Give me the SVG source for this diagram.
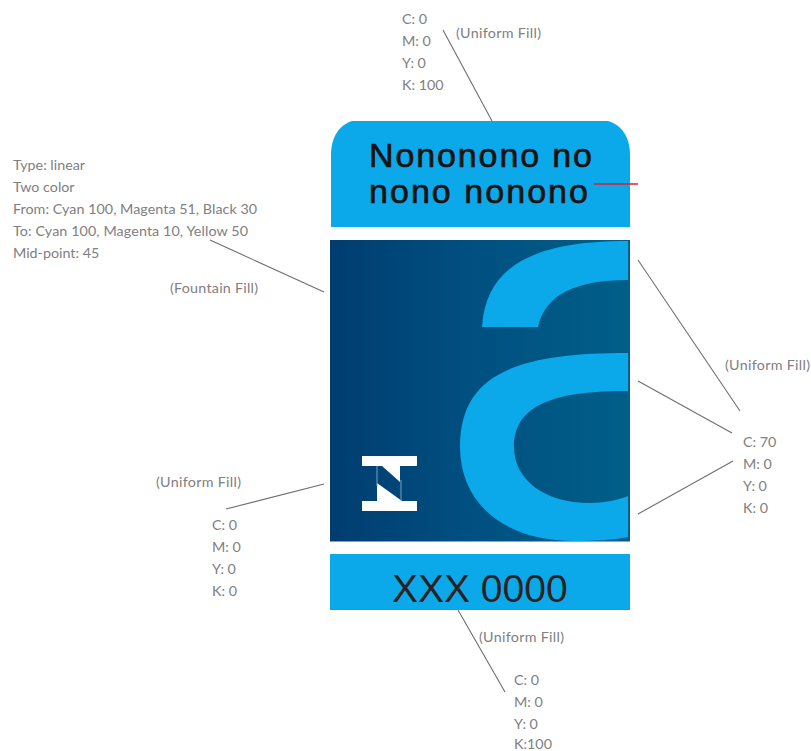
<svg xmlns="http://www.w3.org/2000/svg" width="811" height="751" viewBox="0 0 811 751">
<style>
.t{font-family:"Lato","Open Sans",sans-serif;font-size:14.3px;fill:#808080}
.c{stroke:#6e6e6e;stroke-width:1.1;fill:none}
.cy{fill:#0ba9ea}
.k{font-family:"Liberation Sans",Arial,sans-serif;fill:#1a1210}
.h{stroke:#1a1210;stroke-width:0.7}
</style>
<defs>
<linearGradient id="g" x1="0" y1="0" x2="1" y2="0">
<stop offset="0" stop-color="#003d70"/>
<stop offset="0.45" stop-color="#004f80"/>
<stop offset="1" stop-color="#005f88"/>
</linearGradient>
</defs>
<rect width="811" height="751" fill="#fff"/>
<g id="top-band">
<path class="cy" d="M331 227V155C331 136 340 125 352 121H608C621 125 630 136 630 155V227Z"/>
<text class="k h" x="369" y="167" font-size="34" textLength="223" lengthAdjust="spacing">Nononono no</text>
<text class="k h" x="369" y="203" font-size="34" textLength="219" lengthAdjust="spacing">nono nonono</text>
</g>
<g id="panel">
<rect x="330" y="240" width="300" height="301.500" fill="url(#g)"/>
<path class="cy" d="M482 327C486 268 530 241 628 241V280C575 280 545 295 538 327Z"/>
<path class="cy" d="M628 353C520 353 460 372 460 447C460 500 500 541 575 541C595 541 612 540 628 537V496C618 500 605 503 590 503C545 503 514 480 514 447C514 400 565 391 628 391Z"/>
</g>
<g id="logo">
<rect x="362" y="456" width="55" height="10" fill="#fff"/>
<rect x="362" y="501" width="55" height="10" fill="#fff"/>
<path d="M382 466H400V482Z" fill="#fff"/>
<path d="M377 483L402 501H377Z" fill="#fff"/>
<path d="M377 466V486M401 480V501" stroke="#7f9fbd" stroke-width="1" fill="none"/>
</g>
<g id="bottom-band">
<rect class="cy" x="330" y="554" width="300" height="56"/>
<text class="k" x="392" y="602" font-size="39" style="fill:#2a2220">XXX 0000</text>
</g>
<g id="connectors">
<line class="c" x1="443" y1="30" x2="492" y2="121"/>
<line class="c" x1="210" y1="240" x2="324" y2="292"/>
<line class="c" x1="638" y1="260" x2="740" y2="411"/>
<line class="c" x1="638" y1="381" x2="732" y2="433"/>
<line class="c" x1="638" y1="514" x2="733" y2="461"/>
<line class="c" x1="226" y1="509" x2="324" y2="484"/>
<line class="c" x1="458" y1="610" x2="505" y2="692"/>
<line x1="594" y1="184" x2="638" y2="184" stroke="#d8232a" stroke-width="1.3"/>
</g>
<g id="label-top">
<text class="t" x="402" y="24">C: 0</text>
<text class="t" x="402" y="46">M: 0</text>
<text class="t" x="402" y="68">Y: 0</text>
<text class="t" x="402" y="90">K: 100</text>
<text class="t" x="456" y="38" textLength="85">(Uniform Fill)</text>
</g>
<g id="label-fountain">
<text class="t" x="13" y="170">Type: linear</text>
<text class="t" x="13" y="192">Two color</text>
<text class="t" x="13" y="214" textLength="244">From: Cyan 100, Magenta 51, Black 30</text>
<text class="t" x="13" y="236" textLength="235">To: Cyan 100, Magenta 10, Yellow 50</text>
<text class="t" x="13" y="258">Mid-point: 45</text>
<text class="t" x="170" y="293" textLength="88">(Fountain Fill)</text>
</g>
<g id="label-right">
<text class="t" x="725" y="370" textLength="85">(Uniform Fill)</text>
<text class="t" x="743" y="447">C: 70</text>
<text class="t" x="743" y="469">M: 0</text>
<text class="t" x="743" y="491">Y: 0</text>
<text class="t" x="743" y="513">K: 0</text>
</g>
<g id="label-left">
<text class="t" x="156" y="487" textLength="85">(Uniform Fill)</text>
<text class="t" x="212" y="530">C: 0</text>
<text class="t" x="212" y="552">M: 0</text>
<text class="t" x="212" y="574">Y: 0</text>
<text class="t" x="212" y="596">K: 0</text>
</g>
<g id="label-bottom">
<text class="t" x="479" y="642" textLength="85">(Uniform Fill)</text>
<text class="t" x="514" y="685">C: 0</text>
<text class="t" x="514" y="707">M: 0</text>
<text class="t" x="514" y="729">Y: 0</text>
<text class="t" x="514" y="749">K:100</text>
</g>
</svg>
